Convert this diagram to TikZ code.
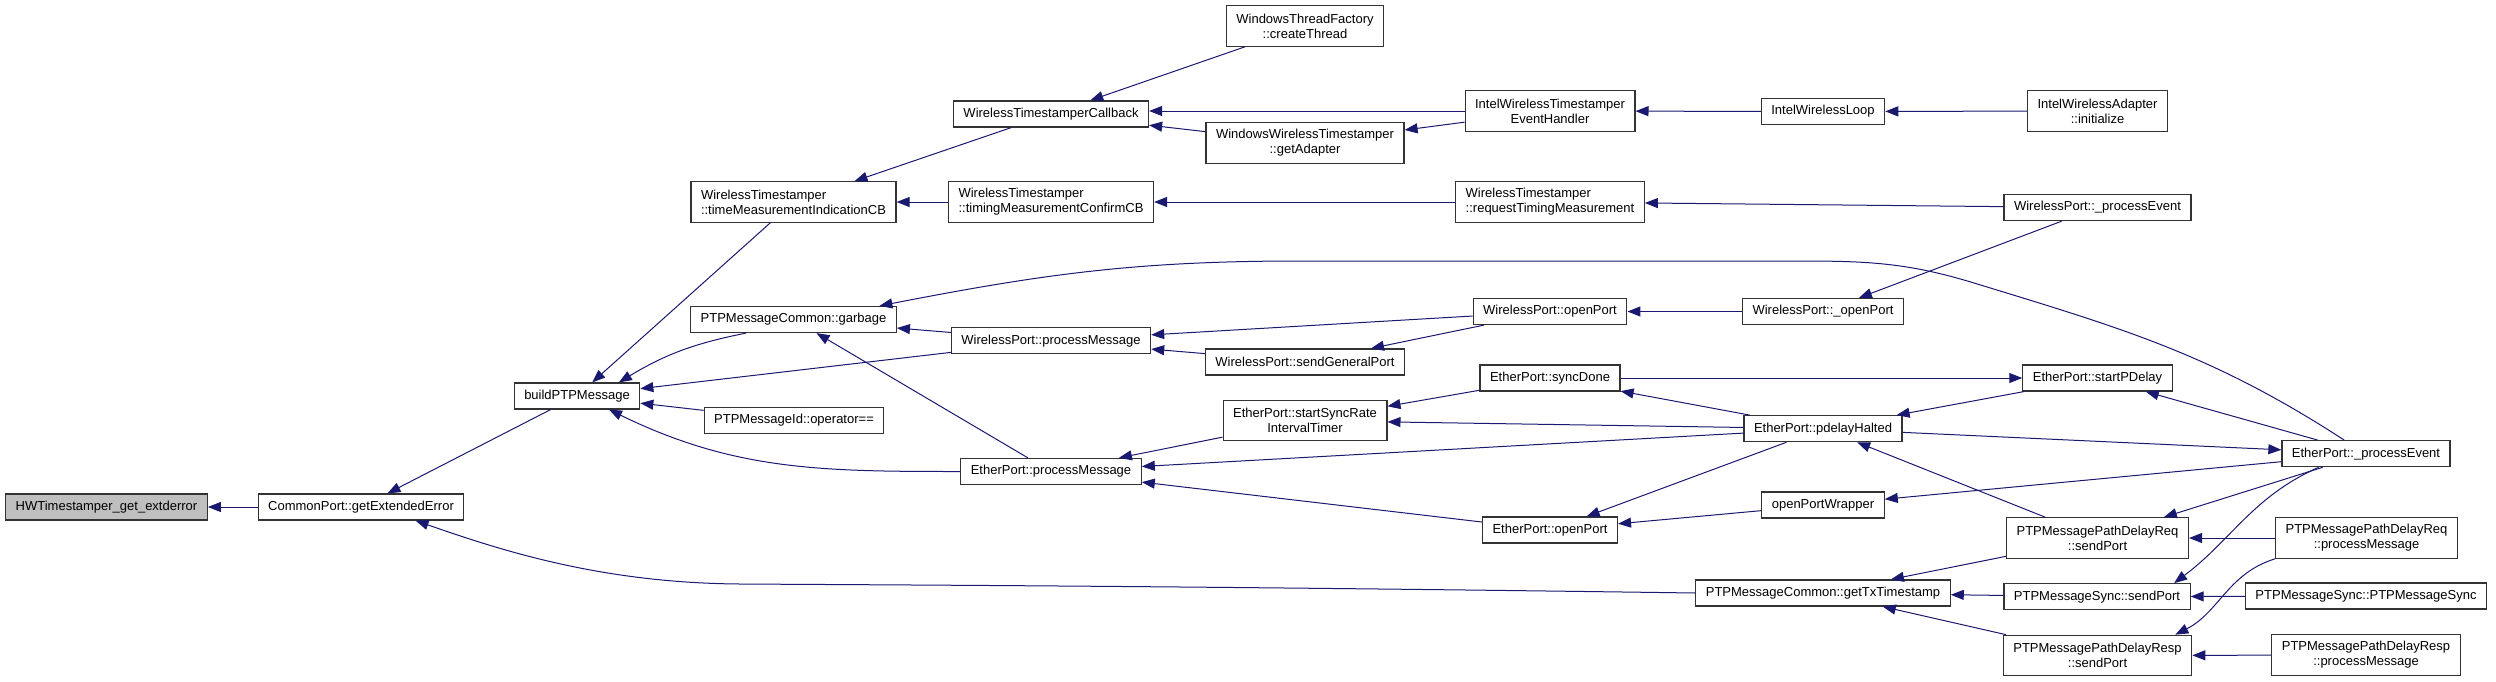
\documentclass[tikz,border=0pt]{standalone}
\usepackage{fontspec}
\setmainfont{Liberation Sans}
\usepackage{tikz}
\usetikzlibrary{arrows.meta}
\definecolor{callblue}{RGB}{25,25,112}

\begin{document}
\begin{tikzpicture}[x=0.5pt,y=-0.5pt,
  fn/.style={draw=black!80,line width=0.6pt,fill=white,font=\fontsize{6.5}{7.5}\selectfont,
    inner xsep=5pt,inner ysep=1pt,minimum height=13pt,align=center},
  fntwo/.style={fn,minimum height=20.25pt},
  call/.style={draw=callblue,line width=0.5pt,-{Triangle[length=6.5pt,width=5pt]}}]
\useasboundingbox (0,0) rectangle (2496,681);
\node[fn,fill=black!25] (hw) at (106.5,507) {HWTimestamper\_get\_extderror};
\node[fn] (getext) at (361,507) {CommonPort::getExtendedError};
\node[fn] (build) at (577,396) {buildPTPMessage};
\node[fntwo,align=left] (tmicb) at (793.5,202) {WirelessTimestamper\\::timeMeasurementIndicationCB};
\node[fn] (garbage) at (793.5,319.5) {PTPMessageCommon::garbage};
\node[fn] (opeq) at (794,420.6) {PTPMessageId::operator==};
\node[fn] (wtcb) at (1051,114) {WirelessTimestamperCallback};
\node[fntwo,align=left] (tmccb) at (1051,202) {WirelessTimestamper\\::timingMeasurementConfirmCB};
\node[fn] (wppm) at (1051,340.7) {WirelessPort::processMessage};
\node[fn] (eppm) at (1051,471.5) {EtherPort::processMessage};
\node[fntwo] (createthr) at (1305,26) {WindowsThreadFactory\\::createThread};
\node[fntwo] (getadapt) at (1305,143) {WindowsWirelessTimestamper\\::getAdapter};
\node[fn] (sendgen) at (1305,362) {WirelessPort::sendGeneralPort};
\node[fntwo] (ssrit) at (1305,420.6) {EtherPort::startSyncRate\\IntervalTimer};
\node[fn] (epopen) at (1550,530) {EtherPort::openPort};
\node[fntwo] (iwteh) at (1550,111) {IntelWirelessTimestamper\\EventHandler};
\node[fntwo,align=left] (rtm) at (1550,202) {WirelessTimestamper\\::requestTimingMeasurement};
\node[fn] (wpopen) at (1550,311.5) {WirelessPort::openPort};
\node[fn] (syncdone) at (1550,378) {EtherPort::syncDone};
\node[fn] (iwloop) at (1823,111.5) {IntelWirelessLoop};
\node[fn] (wpuopen) at (1823,311.5) {WirelessPort::\_openPort};
\node[fn] (pdhalt) at (1823,428.7) {EtherPort::pdelayHalted};
\node[fn] (opwrap) at (1823,505) {openPortWrapper};
\node[fn] (gettx) at (1823,593) {PTPMessageCommon::getTxTimestamp};
\node[fntwo] (iwainit) at (2097.5,111) {IntelWirelessAdapter\\::initialize};
\node[fn] (wpproc) at (2097.5,207.6) {WirelessPort::\_processEvent};
\node[fn] (startpd) at (2097.5,378) {EtherPort::startPDelay};
\node[fntwo] (pdreqsend) at (2097.5,538) {PTPMessagePathDelayReq\\::sendPort};
\node[fn] (syncsend) at (2097,596.7) {PTPMessageSync::sendPort};
\node[fntwo] (pdrespsend) at (2097.5,655.5) {PTPMessagePathDelayResp\\::sendPort};
\node[fn] (epproc) at (2366,453.7) {EtherPort::\_processEvent};
\node[fntwo] (pdreqpm) at (2366.5,538) {PTPMessagePathDelayReq\\::processMessage};
\node[fn] (syncctor) at (2366,596) {PTPMessageSync::PTPMessageSync};
\node[fntwo] (pdresppm) at (2366,655) {PTPMessagePathDelayResp\\::processMessage};
\foreach \a/\b in {getext/hw,build/getext,tmicb/build,wppm/build,opeq/build,wtcb/tmicb,
  tmccb/tmicb,wppm/garbage,eppm/garbage,createthr/wtcb,getadapt/wtcb,iwteh/getadapt,
  rtm/tmccb,wpopen/wppm,sendgen/wppm,wpopen/sendgen,ssrit/eppm,pdhalt/eppm,epopen/eppm,
  syncdone/ssrit,pdhalt/ssrit,syncdone/startpd,pdhalt/syncdone,wpuopen/wpopen,
  wpproc/wpuopen,iwloop/iwteh,iwainit/iwloop,wpproc/rtm,pdhalt/epopen,opwrap/epopen,
  epproc/opwrap,startpd/pdhalt,epproc/startpd,pdhalt/epproc,pdreqsend/pdhalt,
  epproc/pdreqsend,pdreqpm/pdreqsend,syncctor/syncsend,pdresppm/pdrespsend,
  pdreqsend/gettx,syncsend/gettx,pdrespsend/gettx}
  \draw[call] (\a) -- (\b);
\draw[call] (iwteh) -- (iwteh -| wtcb.east);
\draw[call] (garbage.-164) to[bend right=10] (build.18);
\draw[call] (eppm.west) to[out=180,in=-26] (build.-23);
\draw[call] (gettx.west) .. controls (1200,586) and (900,585) .. (740,584)
  .. controls (600,583) and (500,550) .. (getext.-14);
\draw[call] (epproc.148) to[out=147,in=-17] (1974,283) to[out=163,in=0] (1800,261)
  -- (1300,261) to[out=180,in=11] (garbage.9);
\draw[call] (epproc.-164) to[out=-156,in=37] (syncsend.10);
\draw[call] (pdreqpm.south west) to[out=-163,in=27] (pdrespsend.15);
\end{tikzpicture}
\end{document}
